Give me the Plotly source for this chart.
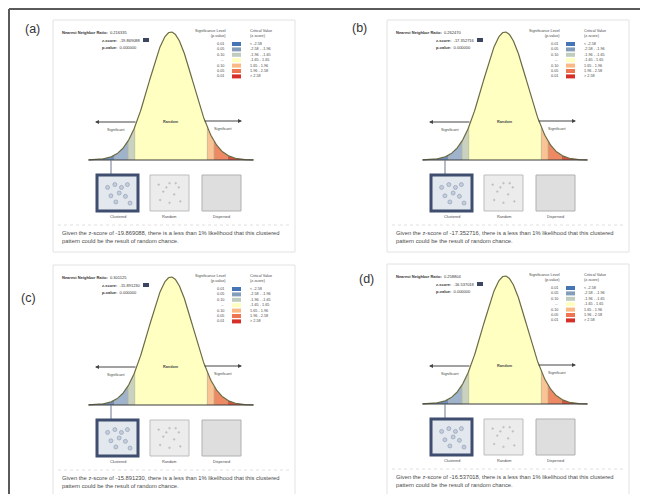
import numpy as np
import plotly.graph_objects as go

# ---------------- data ----------------
panel_labels = ["(a)", "(b)", "(c)", "(d)"]
nn_ratios = ["0.216335", "0.262470", "0.301125", "0.258804"]
z_scores = ["-19.869088", "-17.352716", "-15.891230", "-16.537018"]
p_values = ["0.000000", "0.000000", "0.000000", "0.000000"]

# critical z values that bound the coloured bands of the curve
band_bounds = [-3.75, -2.58, -1.96, -1.65, 1.65, 1.96, 2.58, 3.75]
band_colors = ["#6f8fbf", "#9fb4cc", "#c9d1bf", "#ffffc2", "#f9c393", "#ee8a63", "#d9553d"]

sig_levels = ["0.01", "0.05", "0.10", "--", "0.10", "0.05", "0.01"]
crit_labels = ["< -2.58", "-2.58 - -1.96", "-1.96 - -1.65", "-1.65 - 1.65",
               "1.65 - 1.96", "1.96 - 2.58", "> 2.58"]
swatch_colors = ["#4575b5", "#849eba", "#c0ccbe", "#ffffbf", "#fab984", "#ed7551", "#d62f27"]

pattern_labels = ["Clustered", "Random", "Dispersed"]

# ---------------- layout constants (page pixels) ----------------
PAGE_W, PAGE_H = 648, 502
OFF = 8                      # default body margin of the html page
W, H = PAGE_W - 2 * OFF, PAGE_H - 2 * OFF
panel_origins = [(53, 20), (387, 20), (53, 265), (387, 264)]
label_pos = [(32, 29), (359, 28), (28, 298), (366, 279)]
PW, PH = 242, 232
CX, BASE, PEAK = 118, 140, 12
S = 22.0
FONT = "Liberation Sans, Arial, sans-serif"
TXT = "#4a4a4a"


def px(x):
    return (x - OFF) / W


def py(y):
    return 1 - (y - OFF) / H


def pdf(z):
    return np.exp(-0.5 * z ** 2) / np.sqrt(2 * np.pi)


def note(x, y, text, size, color=TXT, xanchor="center", align="center"):
    return dict(x=x, y=y, xref="paper", yref="paper", text=text, showarrow=False,
                xanchor=xanchor, yanchor="middle", align=align,
                font=dict(family=FONT, size=size, color=color))


k = pdf(0.0) / (BASE - PEAK)

fig = go.Figure()
shapes = []
annotations = []

# outer border (top and left)
shapes.append(dict(type="line", xref="paper", yref="paper", x0=px(9), x1=1.02,
                   y0=py(9), y1=py(9), line=dict(color="#5a5a5a", width=2)))
shapes.append(dict(type="line", xref="paper", yref="paper", x0=px(9), x1=px(9),
                   y0=py(9), y1=-0.02, line=dict(color="#5a5a5a", width=2)))

clustered_dots = [(0.2, 0.3), (0.42, 0.2), (0.62, 0.3), (0.8, 0.2), (0.3, 0.6),
                  (0.55, 0.5), (0.74, 0.62), (0.45, 0.82), (0.88, 0.86)]
random_dots = [(0.15, 0.2), (0.5, 0.15), (0.8, 0.3), (0.3, 0.45), (0.65, 0.55),
               (0.2, 0.75), (0.5, 0.85), (0.85, 0.8), (0.4, 0.3), (0.7, 0.15)]

for i, (ox, oy) in enumerate(panel_origins):
    n = i + 1
    xa = "x" if n == 1 else f"x{n}"
    ya = "y" if n == 1 else f"y{n}"
    xkey = "xaxis" if n == 1 else f"xaxis{n}"
    ykey = "yaxis" if n == 1 else f"yaxis{n}"

    def P(rx, ry, ox=ox, oy=oy):
        return px(ox + rx), py(oy + ry)

    # panel frame
    shapes.append(dict(type="rect", xref="paper", yref="paper", layer="below",
                       x0=px(ox), x1=px(ox + PW), y0=py(oy + PH), y1=py(oy),
                       line=dict(color="#e2e2e2", width=1), fillcolor="white"))

    # coloured bands of the bell curve
    for j in range(len(band_colors)):
        a, b = band_bounds[j], band_bounds[j + 1]
        zz = np.linspace(a, b, 60)
        xs = np.concatenate([zz, [b, a]])
        ys = np.concatenate([pdf(zz), [0, 0]])
        fig.add_trace(go.Scatter(x=xs, y=ys, xaxis=xa, yaxis=ya, mode="lines",
                                 fill="toself", fillcolor=band_colors[j],
                                 line=dict(width=0), hoverinfo="skip"))
    for bnd in band_bounds[1:-1]:
        fig.add_trace(go.Scatter(x=[bnd, bnd], y=[0, pdf(bnd)], xaxis=xa, yaxis=ya,
                                 mode="lines", line=dict(color="#9a9a80", width=0.5),
                                 hoverinfo="skip"))
    zc = np.linspace(band_bounds[0], band_bounds[-1], 300)
    fig.add_trace(go.Scatter(x=zc, y=pdf(zc), xaxis=xa, yaxis=ya, mode="lines",
                             line=dict(color="#6b6b45", width=1.2), hoverinfo="skip"))
    fig.add_trace(go.Scatter(x=[band_bounds[0], band_bounds[-1]], y=[0, 0], xaxis=xa,
                             yaxis=ya, mode="lines", line=dict(color="#3a3a3a", width=1.2),
                             hoverinfo="skip"))

    pad = 10
    fig.layout[xkey] = dict(domain=[px(ox), px(ox + PW)], range=[-CX / S, (PW - CX) / S],
                            visible=False, fixedrange=True)
    fig.layout[ykey] = dict(domain=[py(oy + BASE + pad), py(oy)], anchor=xa,
                            range=[-pad * k, BASE * k], visible=False, fixedrange=True)

    # panel label
    lx, ly = label_pos[i]
    annotations.append(note(px(lx), py(ly), panel_labels[i], 12.5, color="#333333"))

    # header text
    x0, y0 = P(7, 12)
    annotations.append(note(x0, y0, f"<b>Nearest Neighbor Ratio:</b>  {nn_ratios[i]}", 4,
                            color="#333333", xanchor="left"))
    x0, y0 = P(47, 20)
    annotations.append(note(x0, y0, f"<b>z-score:</b>  {z_scores[i]}", 4,
                            color="#333333", xanchor="left"))
    shapes.append(dict(type="rect", xref="paper", yref="paper",
                       x0=px(ox + 90), x1=px(ox + 96), y0=py(oy + 22), y1=py(oy + 18),
                       line=dict(width=0), fillcolor="#3c4660"))
    x0, y0 = P(47, 27)
    annotations.append(note(x0, y0, f"<b>p-value:</b>  {p_values[i]}", 4,
                            color="#333333", xanchor="left"))

    # legend
    x0, y0 = P(175, 13)
    annotations.append(note(x0, y0, "Significance Level<br>(p-value)", 3.8,
                            xanchor="right", align="right"))
    x0, y0 = P(195, 13)
    annotations.append(note(x0, y0, "Critical Value<br>(z-score)", 3.8,
                            xanchor="left", align="left"))
    for r in range(len(sig_levels)):
        ry = 24 + r * 5.4
        x0, y0 = P(173, ry)
        annotations.append(note(x0, y0, sig_levels[r], 3.8, xanchor="right"))
        shapes.append(dict(type="rect", xref="paper", yref="paper",
                           x0=px(ox + 179), x1=px(ox + 188),
                           y0=py(oy + ry + 2), y1=py(oy + ry - 2),
                           line=dict(width=0), fillcolor=swatch_colors[r]))
        x0, y0 = P(195, ry)
        annotations.append(note(x0, y0, crit_labels[r], 3.8, xanchor="left"))

    # arrows
    x0, y0 = P(42, 102)
    annotations.append(dict(x=x0, y=y0, xref="paper", yref="paper", ax=42, ay=0,
                            showarrow=True, arrowhead=2, arrowsize=0.8, arrowwidth=1,
                            arrowcolor="#444444", text=""))
    x0, y0 = P(189, 101)
    annotations.append(dict(x=x0, y=y0, xref="paper", yref="paper", ax=-39, ay=0,
                            showarrow=True, arrowhead=2, arrowsize=0.8, arrowwidth=1,
                            arrowcolor="#444444", text=""))
    for rx, ry, t in [(63, 110, "Significant"), (170, 109, "Significant"), (CX, 102, "<b>Random</b>")]:
        x0, y0 = P(rx, ry)
        annotations.append(note(x0, y0, t, 3.8))

    # connector from the left tail down to the clustered icon
    shapes.append(dict(type="line", xref="paper", yref="paper",
                       x0=px(ox + 58), x1=px(ox + 58), y0=py(oy + BASE), y1=py(oy + 155),
                       line=dict(color="#6a7890", width=1)))

    # pattern icons
    boxes = [(44, 85), (97, 136), (149, 188)]
    for b, (bx0, bx1) in enumerate(boxes):
        if b == 0:
            line = dict(color="#3f4d6e", width=3)
            fill = "#e3e8ef"
        elif b == 1:
            line = dict(color="#bdbdbd", width=1)
            fill = "#ececec"
        else:
            line = dict(color="#b0b0b0", width=1)
            fill = "#dedede"
        shapes.append(dict(type="rect", xref="paper", yref="paper",
                           x0=px(ox + bx0), x1=px(ox + bx1), y0=py(oy + 191), y1=py(oy + 155),
                           line=line, fillcolor=fill))
        x0, y0 = P((bx0 + bx1) / 2, 197)
        annotations.append(note(x0, y0, pattern_labels[b], 3.8))
        dots = clustered_dots if b == 0 else (random_dots if b == 1 else [])
        rad = 2.0 if b == 0 else 0.8
        for (u, v) in dots:
            cx_ = ox + bx0 + 4 + u * (bx1 - bx0 - 8)
            cy_ = oy + 159 + v * 28
            shapes.append(dict(type="circle", xref="paper", yref="paper",
                               x0=px(cx_ - rad), x1=px(cx_ + rad),
                               y0=py(cy_ + rad), y1=py(cy_ - rad),
                               line=dict(color="#8a97ad" if b == 0 else "#b5b5b5", width=0.6),
                               fillcolor="#c4cedc" if b == 0 else "#c8c8c8"))

    # separator and conclusion text
    shapes.append(dict(type="line", xref="paper", yref="paper",
                       x0=px(ox + 5), x1=px(ox + PW - 5), y0=py(oy + 205), y1=py(oy + 205),
                       line=dict(color="#e0e0e0", width=1, dash="dot")))
    x0, y0 = P(7, 217)
    annotations.append(note(x0, y0,
                            (f"Given the z-score of {z_scores[i]}, there is a less than 1% "
                             "likelihood that this clustered<br>pattern could be the result "
                             "of random chance."),
                            5.8, xanchor="left", align="left"))

fig.update_layout(width=W, height=H, margin=dict(l=0, r=0, t=0, b=0),
                  paper_bgcolor="white", plot_bgcolor="rgba(0,0,0,0)",
                  showlegend=False, shapes=shapes, annotations=annotations)

fig.write_html("out.html")
